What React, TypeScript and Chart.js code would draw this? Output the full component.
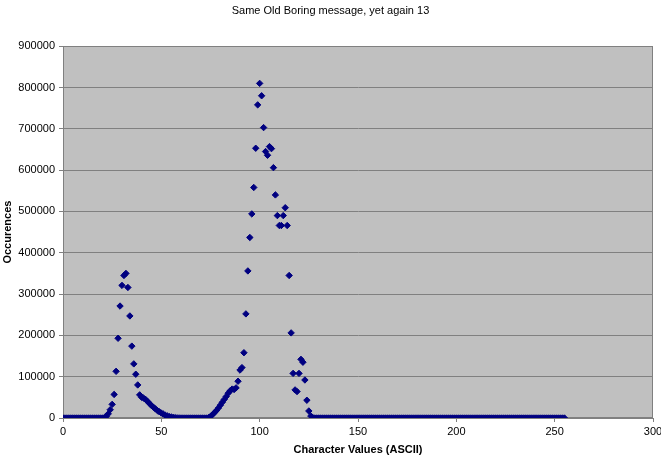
import { useEffect, useRef } from "react";
import { Chart, registerables } from "chart.js";

Chart.register(...registerables);

const TITLE = "Same Old Boring message, yet again 13";
const X_TITLE = "Character Values (ASCII)";
const Y_TITLE = "Occurences";

const X_MIN = 0;
const X_MAX = 300;
const X_STEP = 50;
const Y_MIN = 0;
const Y_MAX = 900000;
const Y_STEP = 100000;

// occurrences for character codes 0..255 (index = character value)
const OCCURRENCES: number[] = [
  0, 0, 0, 0, 0, 0, 0, 0, 0, 0, 0, 0, 0, 0, 0, 0,
  0, 0, 0, 0, 0, 1000, 4000, 10000, 20000, 33000, 57000, 113000, 193000, 271000, 321000, 345000,
  350000, 316000, 247000, 174000, 131000, 106000, 80000, 56000, 50000, 48000, 45000, 40000, 35000, 30000, 26000, 22000,
  18000, 15000, 12000, 9500, 7000, 5000, 3500, 2500, 1500, 800, 400, 200, 0, 0, 0, 0,
  0, 0, 0, 0, 0, 0, 0, 0, 0, 0, 1000, 4000, 8000, 13000, 18000, 24000,
  31000, 38000, 45000, 52000, 60000, 66000, 70000, 69000, 73000, 89000, 116000, 122000, 158000, 252000, 356000, 437000,
  494000, 558000, 653000, 758000, 810000, 780000, 703000, 645000, 636000, 657000, 652000, 606000, 540000, 490000, 466000, 466000,
  490000, 509000, 466000, 345000, 206000, 108000, 68000, 64000, 108000, 142000, 135000, 92000, 43000, 17000, 5000, 1000,
  0, 0, 0, 0, 0, 0, 0, 0, 0, 0, 0, 0, 0, 0, 0, 0,
  0, 0, 0, 0, 0, 0, 0, 0, 0, 0, 0, 0, 0, 0, 0, 0,
  0, 0, 0, 0, 0, 0, 0, 0, 0, 0, 0, 0, 0, 0, 0, 0,
  0, 0, 0, 0, 0, 0, 0, 0, 0, 0, 0, 0, 0, 0, 0, 0,
  0, 0, 0, 0, 0, 0, 0, 0, 0, 0, 0, 0, 0, 0, 0, 0,
  0, 0, 0, 0, 0, 0, 0, 0, 0, 0, 0, 0, 0, 0, 0, 0,
  0, 0, 0, 0, 0, 0, 0, 0, 0, 0, 0, 0, 0, 0, 0, 0,
  0, 0, 0, 0, 0, 0, 0, 0, 0, 0, 0, 0, 0, 0, 0, 0,
];

const FONT = "'Liberation Sans', Arial, sans-serif";
const PLOT_BG = "#C0C0C0";
const FRAME = "#808080";
const MARK = "#000080";

const plotBackground = {
  id: "plotBackground",
  beforeDraw(chart: any) {
    const { ctx, chartArea } = chart;
    if (!chartArea) return;
    ctx.save();
    ctx.fillStyle = PLOT_BG;
    ctx.fillRect(chartArea.left, chartArea.top, chartArea.width, chartArea.height);
    ctx.restore();
  },
  beforeDatasetsDraw(chart: any) {
    const { ctx, chartArea } = chart;
    if (!chartArea) return;
    ctx.save();
    ctx.strokeStyle = FRAME;
    ctx.lineWidth = 1;
    ctx.strokeRect(
      Math.round(chartArea.left) + 0.5,
      Math.round(chartArea.top) + 0.5,
      Math.round(chartArea.width) - 1,
      Math.round(chartArea.height) - 1
    );
    ctx.restore();
  },
};

export default function App() {
  const canvasRef = useRef<HTMLCanvasElement | null>(null);

  useEffect(() => {
    if (!canvasRef.current) return;
    const points = OCCURRENCES.map((v, i) => ({ x: i, y: v }));
    const chart = new Chart(canvasRef.current, {
      type: "scatter",
      data: {
        datasets: [
          {
            label: "Occurences",
            data: points,
            pointStyle: "rectRot",
            pointRadius: 3.2,
            pointBorderWidth: 1,
            backgroundColor: MARK,
            borderColor: MARK,
            showLine: false,
          },
        ],
      },
      options: {
        animation: false,
        responsive: true,
        maintainAspectRatio: false,
        layout: { padding: { top: 0, left: 0, right: 0, bottom: 0 } },
        plugins: {
          legend: { display: false },
          tooltip: { enabled: false },
          title: {
            display: true,
            text: TITLE,
            color: "#000",
            font: { family: FONT, size: 11, weight: "normal" },
            padding: { top: 4, bottom: 29 },
          },
        },
        scales: {
          x: {
            type: "linear",
            min: X_MIN,
            max: X_MAX,
            ticks: {
              stepSize: X_STEP,
              color: "#000",
              font: { family: FONT, size: 11 },
              padding: 3,
              maxRotation: 0,
            },
            grid: {
              drawOnChartArea: false,
              drawTicks: true,
              tickLength: 4,
              color: FRAME,
            },
            border: { display: true, color: FRAME },
            title: {
              display: true,
              text: X_TITLE,
              color: "#000",
              font: { family: FONT, size: 11, weight: "bold" },
              padding: { top: 4, bottom: 4 },
            },
            afterFit(scale: any) {
              scale.height = 43;
              scale.paddingRight = 8;
              scale.paddingLeft = 0;
            },
          },
          y: {
            type: "linear",
            min: Y_MIN,
            max: Y_MAX,
            ticks: {
              stepSize: Y_STEP,
              color: "#000",
              font: { family: FONT, size: 11 },
              padding: 4,
              callback: (v: any) => String(v),
            },
            grid: {
              color: FRAME,
              drawTicks: true,
              tickLength: 4,
            },
            border: { display: true, color: FRAME },
            title: {
              display: true,
              text: Y_TITLE,
              color: "#000",
              font: { family: FONT, size: 11, weight: "bold" },
              padding: { top: 1, bottom: 0 },
            },
            afterFit(scale: any) {
              scale.width = 63;
            },
          },
        },
      },
      plugins: [plotBackground],
    });
    return () => chart.destroy();
  }, []);

  return (
    <div style={{ position: "absolute", left: 0, top: 0, width: 661, height: 461, background: "#fff" }}>
      <canvas ref={canvasRef} />
    </div>
  );
}
